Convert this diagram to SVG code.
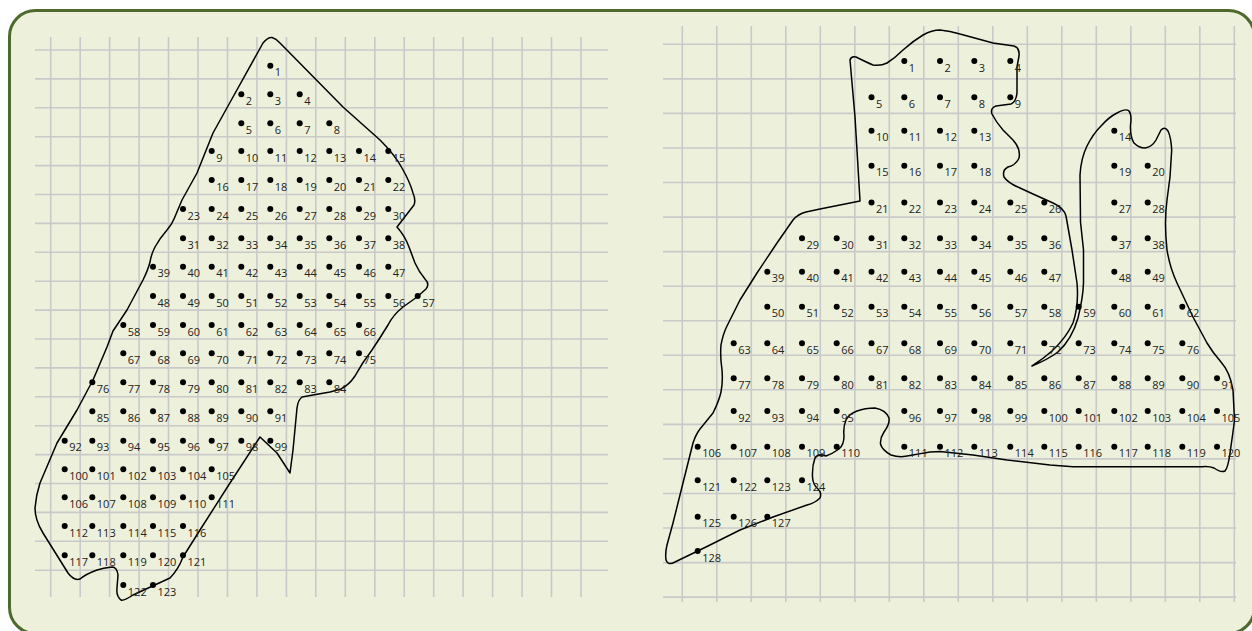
<svg xmlns="http://www.w3.org/2000/svg" width="1252" height="631" viewBox="0 0 1252 631">
<style>
.bg{fill:#edf1dc;stroke:#4e6a2c;stroke-width:3}
.grid{fill:none;stroke:#c9c9c9;stroke-width:1.6}
.outline{fill:none;stroke:#000;stroke-width:1.5;stroke-linejoin:round;stroke-linecap:round}
.d{fill:#000}
.t{font-family:"Open Sans","DejaVu Sans",sans-serif;font-size:11px;fill:#222}
</style>
<rect class="bg" x="9.5" y="10.5" width="1245" height="623" rx="26"/>
<g id="grids">
<path class="grid" d="M35,50H608M35,78.9H608M35,107.8H608M35,136.7H608M35,165.6H608M35,194.5H608M35,223.4H608M35,252.3H608M35,281.2H608M35,310.1H608M35,339H608M35,367.9H608M35,396.8H608M35,425.7H608M35,454.6H608M35,483.5H608M35,512.4H608M35,541.3H608M35,570.2H608
M50.7,37V597M80.2,37V597M109.6,37V597M139.1,37V597M168.5,37V597M198,37V597M227.5,37V597M256.9,37V597M286.4,37V597M315.8,37V597M345.3,37V597M374.8,37V597M404.2,37V597M433.7,37V597M463.1,37V597M492.6,37V597M522.1,37V597M551.5,37V597M581,37V597"/>
<path class="grid" d="M663,44.3H1236M663,78.9H1236M663,113.4H1236M663,148H1236M663,182.5H1236M663,217.1H1236M663,251.6H1236M663,286.2H1236M663,320.7H1236M663,355.3H1236M663,389.8H1236M663,424.4H1236M663,458.9H1236M663,493.5H1236M663,528H1236M663,562.6H1236M663,597.1H1236
M682.3,26V602M716.8,26V602M751.3,26V602M785.8,26V602M820.3,26V602M854.8,26V602M889.3,26V602M923.8,26V602M958.3,26V602M992.8,26V602M1027.3,26V602M1061.8,26V602M1096.3,26V602M1130.8,26V602M1165.3,26V602M1199.8,26V602M1234.3,26V602"/>
</g>
<g id="connectors">
<path class="outline" d="M263,43 Q268,37 272,37.5 Q276,38.5 280,43 L343,107 L380,140 Q395,155 402,168 Q410,182 413,193 Q416,200 414,205 L397,227 Q405,236 409,247 L415,263 Q419,272 425,279 Q430,284 426,289 L417,297 L403,307 Q393,315 388,325 Q380,338 372,350 Q362,363 355,376 Q349,385 341,389 L330,392 L313,395 L302,397 Q298,400 297,408 L293,450 L290,473 L277,453 L260,437 L230,483 L200,530 L183,557 Q178,570 170,578 L133,595 Q124,601 121,600 Q116,596 117,588 L118,575 Q117,567 112,567 Q103,568 97,570 Q86,574 80,579 Q74,581 68,573 L43,533 Q35,520 35,508 Q36,495 40,483 L57,443 L77,410 L93,380 L107,347 L113,331 L127,310 L143,280 Q148,270 150,262 Q151,255 155,247 Q160,238 167,230 Q172,224 174,219 L182,200 L197,173 L213,133 L233,97 Z"/>
<path class="outline" d="M850,60 Q851,56 856,57 Q866,62 873,65 Q881,66 887,63 Q895,58 903,50 Q913,41 923,35 Q932,30 940,30 Q950,31 960,34 L993,43 L1014,46 Q1020,48 1019,56 L1017,67 L1017,93 Q1016,102 1011,104 L996,106 Q990,108 992,114 Q996,122 1003,130 L1013,140 Q1021,149 1019,158 Q1016,165 1008,167 Q1002,170 1004,177 Q1008,183 1020,188 L1033,194 L1053,203 Q1064,208 1066,216 L1072,250 L1077,283 Q1079,305 1073,323 Q1066,338 1052,351 Q1043,359 1032,366 Q1047,360 1058,352 Q1072,339 1078,318 Q1083,298 1083.5,283 L1083.5,250 L1080.5,222 L1080,175 Q1081,158 1087,146 Q1093,134 1101,126 Q1109,117 1117,113 Q1126,108 1129,111 Q1132,115 1130.5,125 Q1130,137 1134,143 Q1139,148 1145,148 Q1152,147 1156,140 L1161,130 Q1165,126 1168,131 Q1171,137 1171.7,150 L1170,177 L1167,200 Q1164,222 1167,250 Q1170,268 1177,283 L1193,317 L1207,343 Q1213,353 1221,362 Q1230,372 1233,390 L1234.5,420 L1233,432 L1230,453 Q1228,468 1225,471 Q1221,473 1214,468 Q1209,466 1202,466.7 L1073,466.7 L1050,465 L1007,460 L973,455 L940,451.5 L930,452 Q918,454 910,455.5 Q900,458 891,455 Q882,450 880.5,444 Q880,438 884,432 Q890,424 889,418 Q886,410 875,408 Q865,408 857,411 Q849,414 846,420 Q843,427 844,436 Q844,445 839,449 Q832,454 826,456 Q818,453 815,458 Q812,466 812.5,477 Q813,485 818,489 Q822,493 820,498 Q815,503 807,505 L773,517 L740,530 L707,546.5 L675,562 Q668,566 666,560 Q665,553 667,545 L673,523 L683,483 L693,443 Q696,434 700,429 L713,413 Q719,401 721,392 Q723,382 722,370 Q720,356 721,345 Q723,334 727,326 L740,300 L757,273 L777,243 L793,220 Q798,214 806,212 L820,209 L860,201 L858,167 L855,117 Z"/>
</g>
<g id="left-points">
<g id="L1" transform="translate(270.3 65.7)"><circle class="d" r="3"/><text class="t" x="4.5" y="10.5">1</text></g>
<g id="L2" transform="translate(241.3 94.3)"><circle class="d" r="3"/><text class="t" x="4.5" y="10.5">2</text></g>
<g id="L3" transform="translate(270.3 94.3)"><circle class="d" r="3"/><text class="t" x="4.5" y="10.5">3</text></g>
<g id="L4" transform="translate(299.7 94.3)"><circle class="d" r="3"/><text class="t" x="4.5" y="10.5">4</text></g>
<g id="L5" transform="translate(241.3 123.3)"><circle class="d" r="3"/><text class="t" x="4.5" y="10.5">5</text></g>
<g id="L6" transform="translate(270.3 123.3)"><circle class="d" r="3"/><text class="t" x="4.5" y="10.5">6</text></g>
<g id="L7" transform="translate(299.7 123.3)"><circle class="d" r="3"/><text class="t" x="4.5" y="10.5">7</text></g>
<g id="L8" transform="translate(329.3 123.3)"><circle class="d" r="3"/><text class="t" x="4.5" y="10.5">8</text></g>
<g id="L9" transform="translate(211.7 151)"><circle class="d" r="3"/><text class="t" x="4.5" y="10.5">9</text></g>
<g id="L10" transform="translate(241.3 151)"><circle class="d" r="3"/><text class="t" x="4.5" y="10.5">10</text></g>
<g id="L11" transform="translate(270.3 151)"><circle class="d" r="3"/><text class="t" x="4.5" y="10.5">11</text></g>
<g id="L12" transform="translate(299.7 151)"><circle class="d" r="3"/><text class="t" x="4.5" y="10.5">12</text></g>
<g id="L13" transform="translate(329.3 151)"><circle class="d" r="3"/><text class="t" x="4.5" y="10.5">13</text></g>
<g id="L14" transform="translate(359 151)"><circle class="d" r="3"/><text class="t" x="4.5" y="10.5">14</text></g>
<g id="L15" transform="translate(388.3 151)"><circle class="d" r="3"/><text class="t" x="4.5" y="10.5">15</text></g>
<g id="L16" transform="translate(211.7 180)"><circle class="d" r="3"/><text class="t" x="4.5" y="10.5">16</text></g>
<g id="L17" transform="translate(241.3 180)"><circle class="d" r="3"/><text class="t" x="4.5" y="10.5">17</text></g>
<g id="L18" transform="translate(270.3 180)"><circle class="d" r="3"/><text class="t" x="4.5" y="10.5">18</text></g>
<g id="L19" transform="translate(299.7 180)"><circle class="d" r="3"/><text class="t" x="4.5" y="10.5">19</text></g>
<g id="L20" transform="translate(329.3 180)"><circle class="d" r="3"/><text class="t" x="4.5" y="10.5">20</text></g>
<g id="L21" transform="translate(359 180)"><circle class="d" r="3"/><text class="t" x="4.5" y="10.5">21</text></g>
<g id="L22" transform="translate(388.3 180)"><circle class="d" r="3"/><text class="t" x="4.5" y="10.5">22</text></g>
<g id="L23" transform="translate(183 209)"><circle class="d" r="3"/><text class="t" x="4.5" y="10.5">23</text></g>
<g id="L24" transform="translate(211.7 209)"><circle class="d" r="3"/><text class="t" x="4.5" y="10.5">24</text></g>
<g id="L25" transform="translate(241.3 209)"><circle class="d" r="3"/><text class="t" x="4.5" y="10.5">25</text></g>
<g id="L26" transform="translate(270.3 209)"><circle class="d" r="3"/><text class="t" x="4.5" y="10.5">26</text></g>
<g id="L27" transform="translate(299.7 209)"><circle class="d" r="3"/><text class="t" x="4.5" y="10.5">27</text></g>
<g id="L28" transform="translate(329.3 209)"><circle class="d" r="3"/><text class="t" x="4.5" y="10.5">28</text></g>
<g id="L29" transform="translate(359 209)"><circle class="d" r="3"/><text class="t" x="4.5" y="10.5">29</text></g>
<g id="L30" transform="translate(388.3 209)"><circle class="d" r="3"/><text class="t" x="4.5" y="10.5">30</text></g>
<g id="L31" transform="translate(183 238.3)"><circle class="d" r="3"/><text class="t" x="4.5" y="10.5">31</text></g>
<g id="L32" transform="translate(211.7 238.3)"><circle class="d" r="3"/><text class="t" x="4.5" y="10.5">32</text></g>
<g id="L33" transform="translate(241.3 238.3)"><circle class="d" r="3"/><text class="t" x="4.5" y="10.5">33</text></g>
<g id="L34" transform="translate(270.3 238.3)"><circle class="d" r="3"/><text class="t" x="4.5" y="10.5">34</text></g>
<g id="L35" transform="translate(299.7 238.3)"><circle class="d" r="3"/><text class="t" x="4.5" y="10.5">35</text></g>
<g id="L36" transform="translate(329.3 238.3)"><circle class="d" r="3"/><text class="t" x="4.5" y="10.5">36</text></g>
<g id="L37" transform="translate(359 238.3)"><circle class="d" r="3"/><text class="t" x="4.5" y="10.5">37</text></g>
<g id="L38" transform="translate(388.3 238.3)"><circle class="d" r="3"/><text class="t" x="4.5" y="10.5">38</text></g>
<g id="L39" transform="translate(153 266.7)"><circle class="d" r="3"/><text class="t" x="4.5" y="10.5">39</text></g>
<g id="L40" transform="translate(183 266.7)"><circle class="d" r="3"/><text class="t" x="4.5" y="10.5">40</text></g>
<g id="L41" transform="translate(211.7 266.7)"><circle class="d" r="3"/><text class="t" x="4.5" y="10.5">41</text></g>
<g id="L42" transform="translate(241.3 266.7)"><circle class="d" r="3"/><text class="t" x="4.5" y="10.5">42</text></g>
<g id="L43" transform="translate(270.3 266.7)"><circle class="d" r="3"/><text class="t" x="4.5" y="10.5">43</text></g>
<g id="L44" transform="translate(299.7 266.7)"><circle class="d" r="3"/><text class="t" x="4.5" y="10.5">44</text></g>
<g id="L45" transform="translate(329.3 266.7)"><circle class="d" r="3"/><text class="t" x="4.5" y="10.5">45</text></g>
<g id="L46" transform="translate(359 266.7)"><circle class="d" r="3"/><text class="t" x="4.5" y="10.5">46</text></g>
<g id="L47" transform="translate(388.3 266.7)"><circle class="d" r="3"/><text class="t" x="4.5" y="10.5">47</text></g>
<g id="L48" transform="translate(153 296)"><circle class="d" r="3"/><text class="t" x="4.5" y="10.5">48</text></g>
<g id="L49" transform="translate(183 296)"><circle class="d" r="3"/><text class="t" x="4.5" y="10.5">49</text></g>
<g id="L50" transform="translate(211.7 296)"><circle class="d" r="3"/><text class="t" x="4.5" y="10.5">50</text></g>
<g id="L51" transform="translate(241.3 296)"><circle class="d" r="3"/><text class="t" x="4.5" y="10.5">51</text></g>
<g id="L52" transform="translate(270.3 296)"><circle class="d" r="3"/><text class="t" x="4.5" y="10.5">52</text></g>
<g id="L53" transform="translate(299.7 296)"><circle class="d" r="3"/><text class="t" x="4.5" y="10.5">53</text></g>
<g id="L54" transform="translate(329.3 296)"><circle class="d" r="3"/><text class="t" x="4.5" y="10.5">54</text></g>
<g id="L55" transform="translate(359 296)"><circle class="d" r="3"/><text class="t" x="4.5" y="10.5">55</text></g>
<g id="L56" transform="translate(388.3 296)"><circle class="d" r="3"/><text class="t" x="4.5" y="10.5">56</text></g>
<g id="L57" transform="translate(417.7 296)"><circle class="d" r="3"/><text class="t" x="4.5" y="10.5">57</text></g>
<g id="L58" transform="translate(123.3 325)"><circle class="d" r="3"/><text class="t" x="4.5" y="10.5">58</text></g>
<g id="L59" transform="translate(153 325)"><circle class="d" r="3"/><text class="t" x="4.5" y="10.5">59</text></g>
<g id="L60" transform="translate(183 325)"><circle class="d" r="3"/><text class="t" x="4.5" y="10.5">60</text></g>
<g id="L61" transform="translate(211.7 325)"><circle class="d" r="3"/><text class="t" x="4.5" y="10.5">61</text></g>
<g id="L62" transform="translate(241.3 325)"><circle class="d" r="3"/><text class="t" x="4.5" y="10.5">62</text></g>
<g id="L63" transform="translate(270.3 325)"><circle class="d" r="3"/><text class="t" x="4.5" y="10.5">63</text></g>
<g id="L64" transform="translate(299.7 325)"><circle class="d" r="3"/><text class="t" x="4.5" y="10.5">64</text></g>
<g id="L65" transform="translate(329.3 325)"><circle class="d" r="3"/><text class="t" x="4.5" y="10.5">65</text></g>
<g id="L66" transform="translate(359 325)"><circle class="d" r="3"/><text class="t" x="4.5" y="10.5">66</text></g>
<g id="L67" transform="translate(123.3 353.3)"><circle class="d" r="3"/><text class="t" x="4.5" y="10.5">67</text></g>
<g id="L68" transform="translate(153 353.3)"><circle class="d" r="3"/><text class="t" x="4.5" y="10.5">68</text></g>
<g id="L69" transform="translate(183 353.3)"><circle class="d" r="3"/><text class="t" x="4.5" y="10.5">69</text></g>
<g id="L70" transform="translate(211.7 353.3)"><circle class="d" r="3"/><text class="t" x="4.5" y="10.5">70</text></g>
<g id="L71" transform="translate(241.3 353.3)"><circle class="d" r="3"/><text class="t" x="4.5" y="10.5">71</text></g>
<g id="L72" transform="translate(270.3 353.3)"><circle class="d" r="3"/><text class="t" x="4.5" y="10.5">72</text></g>
<g id="L73" transform="translate(299.7 353.3)"><circle class="d" r="3"/><text class="t" x="4.5" y="10.5">73</text></g>
<g id="L74" transform="translate(329.3 353.3)"><circle class="d" r="3"/><text class="t" x="4.5" y="10.5">74</text></g>
<g id="L75" transform="translate(359 353.3)"><circle class="d" r="3"/><text class="t" x="4.5" y="10.5">75</text></g>
<g id="L76" transform="translate(92.3 382.3)"><circle class="d" r="3"/><text class="t" x="4.5" y="10.5">76</text></g>
<g id="L77" transform="translate(123.3 382.3)"><circle class="d" r="3"/><text class="t" x="4.5" y="10.5">77</text></g>
<g id="L78" transform="translate(153 382.3)"><circle class="d" r="3"/><text class="t" x="4.5" y="10.5">78</text></g>
<g id="L79" transform="translate(183 382.3)"><circle class="d" r="3"/><text class="t" x="4.5" y="10.5">79</text></g>
<g id="L80" transform="translate(211.7 382.3)"><circle class="d" r="3"/><text class="t" x="4.5" y="10.5">80</text></g>
<g id="L81" transform="translate(241.3 382.3)"><circle class="d" r="3"/><text class="t" x="4.5" y="10.5">81</text></g>
<g id="L82" transform="translate(270.3 382.3)"><circle class="d" r="3"/><text class="t" x="4.5" y="10.5">82</text></g>
<g id="L83" transform="translate(299.7 382.3)"><circle class="d" r="3"/><text class="t" x="4.5" y="10.5">83</text></g>
<g id="L84" transform="translate(329.3 382.3)"><circle class="d" r="3"/><text class="t" x="4.5" y="10.5">84</text></g>
<g id="L85" transform="translate(92.3 411.3)"><circle class="d" r="3"/><text class="t" x="4.5" y="10.5">85</text></g>
<g id="L86" transform="translate(123.3 411.3)"><circle class="d" r="3"/><text class="t" x="4.5" y="10.5">86</text></g>
<g id="L87" transform="translate(153 411.3)"><circle class="d" r="3"/><text class="t" x="4.5" y="10.5">87</text></g>
<g id="L88" transform="translate(183 411.3)"><circle class="d" r="3"/><text class="t" x="4.5" y="10.5">88</text></g>
<g id="L89" transform="translate(211.7 411.3)"><circle class="d" r="3"/><text class="t" x="4.5" y="10.5">89</text></g>
<g id="L90" transform="translate(241.3 411.3)"><circle class="d" r="3"/><text class="t" x="4.5" y="10.5">90</text></g>
<g id="L91" transform="translate(270.3 411.3)"><circle class="d" r="3"/><text class="t" x="4.5" y="10.5">91</text></g>
<g id="L92" transform="translate(64.7 440.7)"><circle class="d" r="3"/><text class="t" x="4.5" y="10.5">92</text></g>
<g id="L93" transform="translate(92.3 440.7)"><circle class="d" r="3"/><text class="t" x="4.5" y="10.5">93</text></g>
<g id="L94" transform="translate(123.3 440.7)"><circle class="d" r="3"/><text class="t" x="4.5" y="10.5">94</text></g>
<g id="L95" transform="translate(153 440.7)"><circle class="d" r="3"/><text class="t" x="4.5" y="10.5">95</text></g>
<g id="L96" transform="translate(183 440.7)"><circle class="d" r="3"/><text class="t" x="4.5" y="10.5">96</text></g>
<g id="L97" transform="translate(211.7 440.7)"><circle class="d" r="3"/><text class="t" x="4.5" y="10.5">97</text></g>
<g id="L98" transform="translate(241.3 440.7)"><circle class="d" r="3"/><text class="t" x="4.5" y="10.5">98</text></g>
<g id="L99" transform="translate(270.3 440.7)"><circle class="d" r="3"/><text class="t" x="4.5" y="10.5">99</text></g>
<g id="L100" transform="translate(64.7 469.3)"><circle class="d" r="3"/><text class="t" x="4.5" y="10.5">100</text></g>
<g id="L101" transform="translate(92.3 469.3)"><circle class="d" r="3"/><text class="t" x="4.5" y="10.5">101</text></g>
<g id="L102" transform="translate(123.3 469.3)"><circle class="d" r="3"/><text class="t" x="4.5" y="10.5">102</text></g>
<g id="L103" transform="translate(153 469.3)"><circle class="d" r="3"/><text class="t" x="4.5" y="10.5">103</text></g>
<g id="L104" transform="translate(183 469.3)"><circle class="d" r="3"/><text class="t" x="4.5" y="10.5">104</text></g>
<g id="L105" transform="translate(211.7 469.3)"><circle class="d" r="3"/><text class="t" x="4.5" y="10.5">105</text></g>
<g id="L106" transform="translate(64.7 497.3)"><circle class="d" r="3"/><text class="t" x="4.5" y="10.5">106</text></g>
<g id="L107" transform="translate(92.3 497.3)"><circle class="d" r="3"/><text class="t" x="4.5" y="10.5">107</text></g>
<g id="L108" transform="translate(123.3 497.3)"><circle class="d" r="3"/><text class="t" x="4.5" y="10.5">108</text></g>
<g id="L109" transform="translate(153 497.3)"><circle class="d" r="3"/><text class="t" x="4.5" y="10.5">109</text></g>
<g id="L110" transform="translate(183 497.3)"><circle class="d" r="3"/><text class="t" x="4.5" y="10.5">110</text></g>
<g id="L111" transform="translate(211.7 497.3)"><circle class="d" r="3"/><text class="t" x="4.5" y="10.5">111</text></g>
<g id="L112" transform="translate(64.7 526)"><circle class="d" r="3"/><text class="t" x="4.5" y="10.5">112</text></g>
<g id="L113" transform="translate(92.3 526)"><circle class="d" r="3"/><text class="t" x="4.5" y="10.5">113</text></g>
<g id="L114" transform="translate(123.3 526)"><circle class="d" r="3"/><text class="t" x="4.5" y="10.5">114</text></g>
<g id="L115" transform="translate(153 526)"><circle class="d" r="3"/><text class="t" x="4.5" y="10.5">115</text></g>
<g id="L116" transform="translate(183 526)"><circle class="d" r="3"/><text class="t" x="4.5" y="10.5">116</text></g>
<g id="L117" transform="translate(64.7 555.3)"><circle class="d" r="3"/><text class="t" x="4.5" y="10.5">117</text></g>
<g id="L118" transform="translate(92.3 555.3)"><circle class="d" r="3"/><text class="t" x="4.5" y="10.5">118</text></g>
<g id="L119" transform="translate(123.3 555.3)"><circle class="d" r="3"/><text class="t" x="4.5" y="10.5">119</text></g>
<g id="L120" transform="translate(153 555.3)"><circle class="d" r="3"/><text class="t" x="4.5" y="10.5">120</text></g>
<g id="L121" transform="translate(183 555.3)"><circle class="d" r="3"/><text class="t" x="4.5" y="10.5">121</text></g>
<g id="L122" transform="translate(123.3 585)"><circle class="d" r="3"/><text class="t" x="4.5" y="10.5">122</text></g>
<g id="L123" transform="translate(153 585)"><circle class="d" r="3"/><text class="t" x="4.5" y="10.5">123</text></g>
</g>
<g id="right-points">
<g id="R1" transform="translate(904.3 61)"><circle class="d" r="3"/><text class="t" x="4.5" y="10.5">1</text></g>
<g id="R2" transform="translate(940 61)"><circle class="d" r="3"/><text class="t" x="4.5" y="10.5">2</text></g>
<g id="R3" transform="translate(974.3 61)"><circle class="d" r="3"/><text class="t" x="4.5" y="10.5">3</text></g>
<g id="R4" transform="translate(1010.3 61)"><circle class="d" r="3"/><text class="t" x="4.5" y="10.5">4</text></g>
<g id="R5" transform="translate(871.5 97.3)"><circle class="d" r="3"/><text class="t" x="4.5" y="10.5">5</text></g>
<g id="R6" transform="translate(904.3 97.3)"><circle class="d" r="3"/><text class="t" x="4.5" y="10.5">6</text></g>
<g id="R7" transform="translate(940 97.3)"><circle class="d" r="3"/><text class="t" x="4.5" y="10.5">7</text></g>
<g id="R8" transform="translate(974.3 97.3)"><circle class="d" r="3"/><text class="t" x="4.5" y="10.5">8</text></g>
<g id="R9" transform="translate(1010.3 97.3)"><circle class="d" r="3"/><text class="t" x="4.5" y="10.5">9</text></g>
<g id="R10" transform="translate(871.5 130.7)"><circle class="d" r="3"/><text class="t" x="4.5" y="10.5">10</text></g>
<g id="R11" transform="translate(904.3 130.7)"><circle class="d" r="3"/><text class="t" x="4.5" y="10.5">11</text></g>
<g id="R12" transform="translate(940 130.7)"><circle class="d" r="3"/><text class="t" x="4.5" y="10.5">12</text></g>
<g id="R13" transform="translate(974.3 130.7)"><circle class="d" r="3"/><text class="t" x="4.5" y="10.5">13</text></g>
<g id="R14" transform="translate(1114.3 130.7)"><circle class="d" r="3"/><text class="t" x="4.5" y="10.5">14</text></g>
<g id="R15" transform="translate(871.5 165.7)"><circle class="d" r="3"/><text class="t" x="4.5" y="10.5">15</text></g>
<g id="R16" transform="translate(904.3 165.7)"><circle class="d" r="3"/><text class="t" x="4.5" y="10.5">16</text></g>
<g id="R17" transform="translate(940 165.7)"><circle class="d" r="3"/><text class="t" x="4.5" y="10.5">17</text></g>
<g id="R18" transform="translate(974.3 165.7)"><circle class="d" r="3"/><text class="t" x="4.5" y="10.5">18</text></g>
<g id="R19" transform="translate(1114.3 165.7)"><circle class="d" r="3"/><text class="t" x="4.5" y="10.5">19</text></g>
<g id="R20" transform="translate(1147.7 165.7)"><circle class="d" r="3"/><text class="t" x="4.5" y="10.5">20</text></g>
<g id="R21" transform="translate(871.5 202.5)"><circle class="d" r="3"/><text class="t" x="4.5" y="10.5">21</text></g>
<g id="R22" transform="translate(904.3 202.5)"><circle class="d" r="3"/><text class="t" x="4.5" y="10.5">22</text></g>
<g id="R23" transform="translate(940 202.5)"><circle class="d" r="3"/><text class="t" x="4.5" y="10.5">23</text></g>
<g id="R24" transform="translate(974.3 202.5)"><circle class="d" r="3"/><text class="t" x="4.5" y="10.5">24</text></g>
<g id="R25" transform="translate(1010.3 202.5)"><circle class="d" r="3"/><text class="t" x="4.5" y="10.5">25</text></g>
<g id="R26" transform="translate(1044.3 202.5)"><circle class="d" r="3"/><text class="t" x="4.5" y="10.5">26</text></g>
<g id="R27" transform="translate(1114.3 202.5)"><circle class="d" r="3"/><text class="t" x="4.5" y="10.5">27</text></g>
<g id="R28" transform="translate(1147.7 202.5)"><circle class="d" r="3"/><text class="t" x="4.5" y="10.5">28</text></g>
<g id="R29" transform="translate(802 238.3)"><circle class="d" r="3"/><text class="t" x="4.5" y="10.5">29</text></g>
<g id="R30" transform="translate(836.7 238.3)"><circle class="d" r="3"/><text class="t" x="4.5" y="10.5">30</text></g>
<g id="R31" transform="translate(871.5 238.3)"><circle class="d" r="3"/><text class="t" x="4.5" y="10.5">31</text></g>
<g id="R32" transform="translate(904.3 238.3)"><circle class="d" r="3"/><text class="t" x="4.5" y="10.5">32</text></g>
<g id="R33" transform="translate(940 238.3)"><circle class="d" r="3"/><text class="t" x="4.5" y="10.5">33</text></g>
<g id="R34" transform="translate(974.3 238.3)"><circle class="d" r="3"/><text class="t" x="4.5" y="10.5">34</text></g>
<g id="R35" transform="translate(1010.3 238.3)"><circle class="d" r="3"/><text class="t" x="4.5" y="10.5">35</text></g>
<g id="R36" transform="translate(1044.3 238.3)"><circle class="d" r="3"/><text class="t" x="4.5" y="10.5">36</text></g>
<g id="R37" transform="translate(1114.3 238.3)"><circle class="d" r="3"/><text class="t" x="4.5" y="10.5">37</text></g>
<g id="R38" transform="translate(1147.7 238.3)"><circle class="d" r="3"/><text class="t" x="4.5" y="10.5">38</text></g>
<g id="R39" transform="translate(767.3 271.7)"><circle class="d" r="3"/><text class="t" x="4.5" y="10.5">39</text></g>
<g id="R40" transform="translate(802 271.7)"><circle class="d" r="3"/><text class="t" x="4.5" y="10.5">40</text></g>
<g id="R41" transform="translate(836.7 271.7)"><circle class="d" r="3"/><text class="t" x="4.5" y="10.5">41</text></g>
<g id="R42" transform="translate(871.5 271.7)"><circle class="d" r="3"/><text class="t" x="4.5" y="10.5">42</text></g>
<g id="R43" transform="translate(904.3 271.7)"><circle class="d" r="3"/><text class="t" x="4.5" y="10.5">43</text></g>
<g id="R44" transform="translate(940 271.7)"><circle class="d" r="3"/><text class="t" x="4.5" y="10.5">44</text></g>
<g id="R45" transform="translate(974.3 271.7)"><circle class="d" r="3"/><text class="t" x="4.5" y="10.5">45</text></g>
<g id="R46" transform="translate(1010.3 271.7)"><circle class="d" r="3"/><text class="t" x="4.5" y="10.5">46</text></g>
<g id="R47" transform="translate(1044.3 271.7)"><circle class="d" r="3"/><text class="t" x="4.5" y="10.5">47</text></g>
<g id="R48" transform="translate(1114.3 271.7)"><circle class="d" r="3"/><text class="t" x="4.5" y="10.5">48</text></g>
<g id="R49" transform="translate(1147.7 271.7)"><circle class="d" r="3"/><text class="t" x="4.5" y="10.5">49</text></g>
<g id="R50" transform="translate(767.3 306.7)"><circle class="d" r="3"/><text class="t" x="4.5" y="10.5">50</text></g>
<g id="R51" transform="translate(802 306.7)"><circle class="d" r="3"/><text class="t" x="4.5" y="10.5">51</text></g>
<g id="R52" transform="translate(836.7 306.7)"><circle class="d" r="3"/><text class="t" x="4.5" y="10.5">52</text></g>
<g id="R53" transform="translate(871.5 306.7)"><circle class="d" r="3"/><text class="t" x="4.5" y="10.5">53</text></g>
<g id="R54" transform="translate(904.3 306.7)"><circle class="d" r="3"/><text class="t" x="4.5" y="10.5">54</text></g>
<g id="R55" transform="translate(940 306.7)"><circle class="d" r="3"/><text class="t" x="4.5" y="10.5">55</text></g>
<g id="R56" transform="translate(974.3 306.7)"><circle class="d" r="3"/><text class="t" x="4.5" y="10.5">56</text></g>
<g id="R57" transform="translate(1010.3 306.7)"><circle class="d" r="3"/><text class="t" x="4.5" y="10.5">57</text></g>
<g id="R58" transform="translate(1044.3 306.7)"><circle class="d" r="3"/><text class="t" x="4.5" y="10.5">58</text></g>
<g id="R59" transform="translate(1078.7 306.7)"><circle class="d" r="3"/><text class="t" x="4.5" y="10.5">59</text></g>
<g id="R60" transform="translate(1114.3 306.7)"><circle class="d" r="3"/><text class="t" x="4.5" y="10.5">60</text></g>
<g id="R61" transform="translate(1147.7 306.7)"><circle class="d" r="3"/><text class="t" x="4.5" y="10.5">61</text></g>
<g id="R62" transform="translate(1182.3 306.7)"><circle class="d" r="3"/><text class="t" x="4.5" y="10.5">62</text></g>
<g id="R63" transform="translate(733.7 343.3)"><circle class="d" r="3"/><text class="t" x="4.5" y="10.5">63</text></g>
<g id="R64" transform="translate(767.3 343.3)"><circle class="d" r="3"/><text class="t" x="4.5" y="10.5">64</text></g>
<g id="R65" transform="translate(802 343.3)"><circle class="d" r="3"/><text class="t" x="4.5" y="10.5">65</text></g>
<g id="R66" transform="translate(836.7 343.3)"><circle class="d" r="3"/><text class="t" x="4.5" y="10.5">66</text></g>
<g id="R67" transform="translate(871.5 343.3)"><circle class="d" r="3"/><text class="t" x="4.5" y="10.5">67</text></g>
<g id="R68" transform="translate(904.3 343.3)"><circle class="d" r="3"/><text class="t" x="4.5" y="10.5">68</text></g>
<g id="R69" transform="translate(940 343.3)"><circle class="d" r="3"/><text class="t" x="4.5" y="10.5">69</text></g>
<g id="R70" transform="translate(974.3 343.3)"><circle class="d" r="3"/><text class="t" x="4.5" y="10.5">70</text></g>
<g id="R71" transform="translate(1010.3 343.3)"><circle class="d" r="3"/><text class="t" x="4.5" y="10.5">71</text></g>
<g id="R72" transform="translate(1044.3 343.3)"><circle class="d" r="3"/><text class="t" x="4.5" y="10.5">72</text></g>
<g id="R73" transform="translate(1078.7 343.3)"><circle class="d" r="3"/><text class="t" x="4.5" y="10.5">73</text></g>
<g id="R74" transform="translate(1114.3 343.3)"><circle class="d" r="3"/><text class="t" x="4.5" y="10.5">74</text></g>
<g id="R75" transform="translate(1147.7 343.3)"><circle class="d" r="3"/><text class="t" x="4.5" y="10.5">75</text></g>
<g id="R76" transform="translate(1182.3 343.3)"><circle class="d" r="3"/><text class="t" x="4.5" y="10.5">76</text></g>
<g id="R77" transform="translate(733.7 378.3)"><circle class="d" r="3"/><text class="t" x="4.5" y="10.5">77</text></g>
<g id="R78" transform="translate(767.3 378.3)"><circle class="d" r="3"/><text class="t" x="4.5" y="10.5">78</text></g>
<g id="R79" transform="translate(802 378.3)"><circle class="d" r="3"/><text class="t" x="4.5" y="10.5">79</text></g>
<g id="R80" transform="translate(836.7 378.3)"><circle class="d" r="3"/><text class="t" x="4.5" y="10.5">80</text></g>
<g id="R81" transform="translate(871.5 378.3)"><circle class="d" r="3"/><text class="t" x="4.5" y="10.5">81</text></g>
<g id="R82" transform="translate(904.3 378.3)"><circle class="d" r="3"/><text class="t" x="4.5" y="10.5">82</text></g>
<g id="R83" transform="translate(940 378.3)"><circle class="d" r="3"/><text class="t" x="4.5" y="10.5">83</text></g>
<g id="R84" transform="translate(974.3 378.3)"><circle class="d" r="3"/><text class="t" x="4.5" y="10.5">84</text></g>
<g id="R85" transform="translate(1010.3 378.3)"><circle class="d" r="3"/><text class="t" x="4.5" y="10.5">85</text></g>
<g id="R86" transform="translate(1044.3 378.3)"><circle class="d" r="3"/><text class="t" x="4.5" y="10.5">86</text></g>
<g id="R87" transform="translate(1078.7 378.3)"><circle class="d" r="3"/><text class="t" x="4.5" y="10.5">87</text></g>
<g id="R88" transform="translate(1114.3 378.3)"><circle class="d" r="3"/><text class="t" x="4.5" y="10.5">88</text></g>
<g id="R89" transform="translate(1147.7 378.3)"><circle class="d" r="3"/><text class="t" x="4.5" y="10.5">89</text></g>
<g id="R90" transform="translate(1182.3 378.3)"><circle class="d" r="3"/><text class="t" x="4.5" y="10.5">90</text></g>
<g id="R91" transform="translate(1217 378.3)"><circle class="d" r="3"/><text class="t" x="4.5" y="10.5">91</text></g>
<g id="R92" transform="translate(733.7 411)"><circle class="d" r="3"/><text class="t" x="4.5" y="10.5">92</text></g>
<g id="R93" transform="translate(767.3 411)"><circle class="d" r="3"/><text class="t" x="4.5" y="10.5">93</text></g>
<g id="R94" transform="translate(802 411)"><circle class="d" r="3"/><text class="t" x="4.5" y="10.5">94</text></g>
<g id="R95" transform="translate(836.7 411)"><circle class="d" r="3"/><text class="t" x="4.5" y="10.5">95</text></g>
<g id="R96" transform="translate(904.3 411)"><circle class="d" r="3"/><text class="t" x="4.5" y="10.5">96</text></g>
<g id="R97" transform="translate(940 411)"><circle class="d" r="3"/><text class="t" x="4.5" y="10.5">97</text></g>
<g id="R98" transform="translate(974.3 411)"><circle class="d" r="3"/><text class="t" x="4.5" y="10.5">98</text></g>
<g id="R99" transform="translate(1010.3 411)"><circle class="d" r="3"/><text class="t" x="4.5" y="10.5">99</text></g>
<g id="R100" transform="translate(1044.3 411)"><circle class="d" r="3"/><text class="t" x="4.5" y="10.5">100</text></g>
<g id="R101" transform="translate(1078.7 411)"><circle class="d" r="3"/><text class="t" x="4.5" y="10.5">101</text></g>
<g id="R102" transform="translate(1114.3 411)"><circle class="d" r="3"/><text class="t" x="4.5" y="10.5">102</text></g>
<g id="R103" transform="translate(1147.7 411)"><circle class="d" r="3"/><text class="t" x="4.5" y="10.5">103</text></g>
<g id="R104" transform="translate(1182.3 411)"><circle class="d" r="3"/><text class="t" x="4.5" y="10.5">104</text></g>
<g id="R105" transform="translate(1217 411)"><circle class="d" r="3"/><text class="t" x="4.5" y="10.5">105</text></g>
<g id="R106" transform="translate(697.7 446.7)"><circle class="d" r="3"/><text class="t" x="4.5" y="10.5">106</text></g>
<g id="R107" transform="translate(733.7 446.7)"><circle class="d" r="3"/><text class="t" x="4.5" y="10.5">107</text></g>
<g id="R108" transform="translate(767.3 446.7)"><circle class="d" r="3"/><text class="t" x="4.5" y="10.5">108</text></g>
<g id="R109" transform="translate(802 446.7)"><circle class="d" r="3"/><text class="t" x="4.5" y="10.5">109</text></g>
<g id="R110" transform="translate(836.7 446.7)"><circle class="d" r="3"/><text class="t" x="4.5" y="10.5">110</text></g>
<g id="R111" transform="translate(904.3 446.7)"><circle class="d" r="3"/><text class="t" x="4.5" y="10.5">111</text></g>
<g id="R112" transform="translate(940 446.7)"><circle class="d" r="3"/><text class="t" x="4.5" y="10.5">112</text></g>
<g id="R113" transform="translate(974.3 446.7)"><circle class="d" r="3"/><text class="t" x="4.5" y="10.5">113</text></g>
<g id="R114" transform="translate(1010.3 446.7)"><circle class="d" r="3"/><text class="t" x="4.5" y="10.5">114</text></g>
<g id="R115" transform="translate(1044.3 446.7)"><circle class="d" r="3"/><text class="t" x="4.5" y="10.5">115</text></g>
<g id="R116" transform="translate(1078.7 446.7)"><circle class="d" r="3"/><text class="t" x="4.5" y="10.5">116</text></g>
<g id="R117" transform="translate(1114.3 446.7)"><circle class="d" r="3"/><text class="t" x="4.5" y="10.5">117</text></g>
<g id="R118" transform="translate(1147.7 446.7)"><circle class="d" r="3"/><text class="t" x="4.5" y="10.5">118</text></g>
<g id="R119" transform="translate(1182.3 446.7)"><circle class="d" r="3"/><text class="t" x="4.5" y="10.5">119</text></g>
<g id="R120" transform="translate(1217 446.7)"><circle class="d" r="3"/><text class="t" x="4.5" y="10.5">120</text></g>
<g id="R121" transform="translate(697.7 480.3)"><circle class="d" r="3"/><text class="t" x="4.5" y="10.5">121</text></g>
<g id="R122" transform="translate(733.7 480.3)"><circle class="d" r="3"/><text class="t" x="4.5" y="10.5">122</text></g>
<g id="R123" transform="translate(767.3 480.3)"><circle class="d" r="3"/><text class="t" x="4.5" y="10.5">123</text></g>
<g id="R124" transform="translate(802 480.3)"><circle class="d" r="3"/><text class="t" x="4.5" y="10.5">124</text></g>
<g id="R125" transform="translate(697.7 516.7)"><circle class="d" r="3"/><text class="t" x="4.5" y="10.5">125</text></g>
<g id="R126" transform="translate(733.7 516.7)"><circle class="d" r="3"/><text class="t" x="4.5" y="10.5">126</text></g>
<g id="R127" transform="translate(767.3 516.7)"><circle class="d" r="3"/><text class="t" x="4.5" y="10.5">127</text></g>
<g id="R128" transform="translate(697.7 551)"><circle class="d" r="3"/><text class="t" x="4.5" y="10.5">128</text></g>
</g>
</svg>
